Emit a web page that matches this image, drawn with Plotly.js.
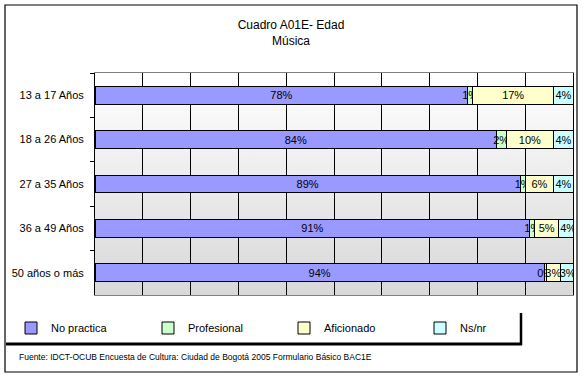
<!DOCTYPE html>
<html>
<head>
<meta charset="utf-8">
<script src="https://cdn.plot.ly/plotly-3.0.1.min.js"></script>
<style>html,body{margin:0;padding:0;background:#fff;}#chart{width:584px;height:378px;}</style>
</head>
<body>
<div id="chart"></div>
<script>
var categories = ["13 a 17 Años", "18 a 26 Años", "27 a 35 Años", "36 a 49 Años", "50 años o más"];
var noPractica = [78, 84, 89, 91, 94];
var profesional = [1, 2, 1, 1, 0.4];
var aficionado = [17, 10, 6, 5, 3];
var nsnr = [4, 4, 4, 4, 3];
var seriesNames = ["No practica", "Profesional", "Aficionado", "Ns/nr"];
var seriesColors = ["#9999FF", "#CCFFCC", "#FFFFCC", "#CCFFFF"];
var titleText = "Cuadro A01E- Edad<br>Música";
var sourceText = "Fuente: IDCT-OCUB Encuesta de Cultura: Ciudad de Bogotá 2005 Formulario Básico BAC1E";

var W = 584, H = 378;
var mL = 95, mR = 11, mT = 73, mB = 83;
var pw = W - mL - mR, ph = H - mT - mB;
function px(x) { return (x - mL) / pw; }
function py(y) { return (H - mB - y) / ph; }

var FONT = "Arial, Liberation Sans, sans-serif";
var legendIds = ["legend", "legend2", "legend3", "legend4"];
var legendX = [11, 148, 284, 420];

var allValues = [noPractica, profesional, aficionado, nsnr];
var traces = allValues.map(function (vals, i) {
  return {
    type: "bar",
    orientation: "h",
    name: seriesNames[i],
    legend: legendIds[i],
    y: categories,
    x: vals,
    marker: { color: seriesColors[i], line: { color: "#000000", width: 1 } },
    texttemplate: "%{x:.0f}%",
    textposition: "inside",
    insidetextanchor: "middle",
    constraintext: "none",
    textangle: 0,
    textfont: { family: FONT, size: 11, color: "#000000" },
    hoverinfo: "none"
  };
});

var grad = "<svg xmlns='http://www.w3.org/2000/svg' width='10' height='100' preserveAspectRatio='none'><defs><linearGradient id='g' x1='0' y1='0' x2='0' y2='1'><stop offset='0' stop-color='#ffffff'/><stop offset='1' stop-color='#d8d8d8'/></linearGradient></defs><rect width='10' height='100' fill='url(#g)'/></svg>";

var layout = {
  width: W, height: H,
  margin: { l: mL, r: mR, t: mT, b: mB, pad: 0 },
  paper_bgcolor: "#ffffff",
  plot_bgcolor: "rgba(0,0,0,0)",
  barmode: "stack",
  bargap: 0.595,
  font: { family: FONT, size: 11, color: "#000000" },
  title: {
    text: titleText,
    font: { family: FONT, size: 12, color: "#000000" },
    x: px(291), xref: "paper", xanchor: "center",
    y: 1 - 29 / H, yanchor: "top"
  },
  xaxis: {
    range: [0, 100], dtick: 10, tick0: 0,
    showgrid: true, gridcolor: "#000000", gridwidth: 1,
    showticklabels: false, ticks: "",
    zeroline: false,
    showline: true, linecolor: "#808080", linewidth: 1, mirror: true,
    fixedrange: true
  },
  yaxis: {
    type: "category",
    autorange: "reversed",
    tickson: "boundaries",
    ticks: "outside", ticklen: 4, tickcolor: "#000000",
    ticklabelstandoff: 8,
    showgrid: false, zeroline: false,
    showline: true, linecolor: "#000000", linewidth: 1, mirror: true,
    tickfont: { family: FONT, size: 11, color: "#000000" },
    fixedrange: true
  },
  showlegend: true,
  images: [{
    source: "data:image/svg+xml;charset=utf-8," + encodeURIComponent(grad),
    xref: "paper", yref: "paper", x: 0, y: 1, sizex: 1, sizey: 1,
    xanchor: "left", yanchor: "top", sizing: "stretch", layer: "below"
  }],
  shapes: [
    { type: "rect", xref: "paper", yref: "paper", x0: px(5), x1: px(577), y0: py(5), y1: py(372),
      line: { color: "#000000", width: 1.2 }, fillcolor: "rgba(0,0,0,0)" },
    { type: "line", xref: "paper", yref: "paper", x0: px(6), x1: px(522), y0: py(344), y1: py(344),
      line: { color: "#000000", width: 3 } },
    { type: "line", xref: "paper", yref: "paper", x0: px(521), x1: px(521), y0: py(313), y1: py(345),
      line: { color: "#000000", width: 2.5 } }
  ],
  annotations: [{
    text: sourceText, showarrow: false,
    xref: "paper", yref: "paper", x: px(17), y: py(357), xanchor: "left", yanchor: "middle",
    font: { family: FONT, size: 8.5, color: "#000000" }
  }]
};

legendIds.forEach(function (id, i) {
  layout[id] = {
    orientation: "h",
    x: px(legendX[i]), xanchor: "left",
    y: py(328), yanchor: "middle",
    font: { family: FONT, size: 11, color: "#000000" },
    bgcolor: "rgba(0,0,0,0)", borderwidth: 0
  };
});

Plotly.newPlot("chart", traces, layout, { staticPlot: true, displayModeBar: false });
</script>
</body>
</html>
